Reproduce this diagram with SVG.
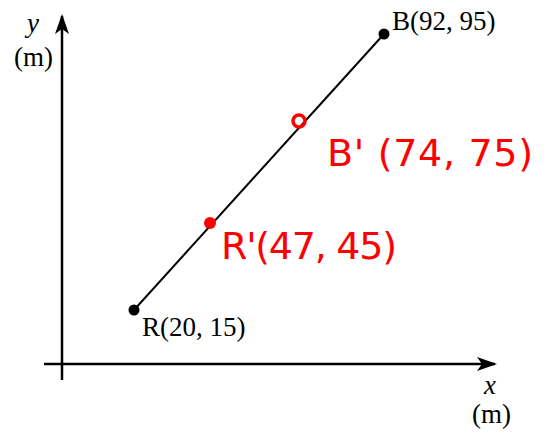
<svg xmlns="http://www.w3.org/2000/svg" width="553" height="432" viewBox="0 0 553 432">
<defs>
<style>
.ax{stroke:#000;stroke-width:2.5;fill:none}
.lbl{font-family:"Liberation Serif","Times New Roman",serif;font-size:27px;fill:#000}
.hand{font-family:"DejaVu Sans","Liberation Sans",sans-serif;font-size:38px;fill:#ff0000}
</style>
<marker id="arr" viewBox="0 0 20 14" refX="18" refY="7" markerWidth="20" markerHeight="14" markerUnits="userSpaceOnUse" orient="auto">
<path d="M0,0 L20,7 L0,14 L5,7 Z" fill="#000"/>
</marker>
</defs>
<rect width="553" height="432" fill="#fff"/>
<g id="axes">
<line class="ax" x1="44" y1="364" x2="495" y2="364" marker-end="url(#arr)"/>
<line class="ax" x1="62" y1="380" x2="62" y2="16" marker-end="url(#arr)"/>
<text class="lbl" x="27" y="32" font-style="italic">y</text>
<text class="lbl" x="14" y="66">(m)</text>
<text class="lbl" x="484" y="394" font-style="italic">x</text>
<text class="lbl" x="472" y="423">(m)</text>
</g>
<g id="connectors">
<line x1="134" y1="310" x2="384" y2="34" stroke="#000" stroke-width="2"/>
</g>
<g id="R">
<circle cx="134" cy="310" r="5.5" fill="#000"/>
<text class="lbl" x="142" y="336">R(20, 15)</text>
</g>
<g id="B">
<circle cx="384" cy="34" r="5.5" fill="#000"/>
<text class="lbl" x="392" y="30">B(92, 95)</text>
</g>
<g id="Bprime">
<circle cx="299" cy="121" r="6" fill="none" stroke="#ff0000" stroke-width="3.5"/>
<text class="hand" x="327" y="166" textLength="206" lengthAdjust="spacing">B' (74, 75)</text>
</g>
<g id="Rprime">
<circle cx="210" cy="223" r="6" fill="#ff0000"/>
<text class="hand" x="221" y="259" textLength="176" lengthAdjust="spacing">R'(47, 45)</text>
</g>
</svg>
